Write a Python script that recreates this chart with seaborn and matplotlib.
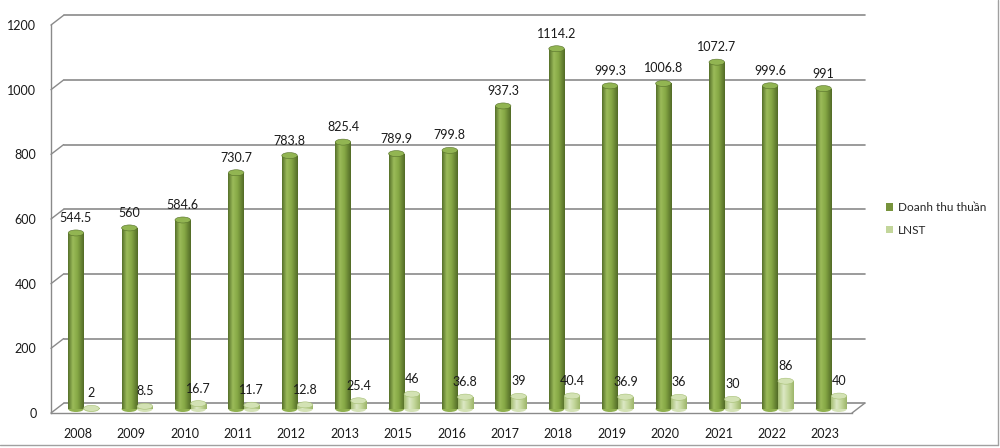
import numpy as np
import pandas as pd
import matplotlib
matplotlib.use("Agg")
import matplotlib.pyplot as plt
import seaborn as sns
from matplotlib.transforms import ScaledTranslation
from matplotlib.patches import Ellipse, Patch
from matplotlib.colors import LinearSegmentedColormap
from matplotlib.lines import Line2D

years = ['2008', '2009', '2010', '2011', '2012', '2013', '2015', '2016',
         '2017', '2018', '2019', '2020', '2021', '2022', '2023']
revenue = [544.5, 560, 584.6, 730.7, 783.8, 825.4, 789.9, 799.8,
           937.3, 1114.2, 999.3, 1006.8, 1072.7, 999.6, 991]
profit = [2, 8.5, 16.7, 11.7, 12.8, 25.4, 46, 36.8,
          39, 40.4, 36.9, 36, 30, 86, 40]
series_names = ['Doanh thu thuần', 'LNST']
yticks = [0, 200, 400, 600, 800, 1000, 1200]

df = pd.DataFrame({
    'year': years * 2,
    'value': revenue + profit,
    'series': [series_names[0]] * len(years) + [series_names[1]] * len(years),
})

sns.set_theme(style='white')
plt.rcParams['font.family'] = ['Lato', 'DejaVu Sans']

colors = {'Doanh thu thuần': '#77933C', 'LNST': '#C3D69B'}
cmaps = {
    'Doanh thu thuần': LinearSegmentedColormap.from_list(
        'g', [(0, '#56702A'), (0.3, '#9BBB59'), (0.6, '#86A845'), (1, '#526B27')]),
    'LNST': LinearSegmentedColormap.from_list(
        'l', [(0, '#A6BF74'), (0.35, '#DCE8C4'), (0.65, '#C3D69B'), (1, '#9DB66A')]),
}
caps = {'Doanh thu thuần': '#92B552', 'LNST': '#D3E2B4'}

fig = plt.figure(figsize=(10, 4.48), dpi=100)
ax = fig.add_axes([0.051, 1 - 413 / 448, 0.852 - 0.051, (413 - 25) / 448])

sns.barplot(data=df, x='year', y='value', hue='series', palette=colors,
            width=0.58, dodge=True, ax=ax, legend=False, saturation=1,
            errorbar=None)

ax.set_xlim(-0.5, len(years) - 0.5)
ax.set_ylim(0, 1200)

bar_off = ScaledTranslation(6 / 100, 4 / 100, fig.dpi_scale_trans)
btrans = ax.transData + bar_off
grad = np.linspace(0, 1, 64).reshape(1, -1)
px_per_unit = (413 - 25) / 1200.0
cap_h = 6 / px_per_unit

patches = list(ax.patches)
n = len(years)
for i, p in enumerate(patches):
    s = series_names[0] if i < n else series_names[1]
    p.set_transform(btrans)
    p.set_edgecolor('none')
    x0, w, h = p.get_x(), p.get_width(), p.get_height()
    im = ax.imshow(grad, extent=(x0, x0 + w, 0, h), aspect='auto',
                   cmap=cmaps[s], transform=btrans, zorder=2.5)
    im.set_clip_path(p)
    # bottom rounding
    eb = Ellipse((x0 + w / 2, 0), w, cap_h, transform=btrans,
                 facecolor=cmaps[s](0.45), edgecolor='none', zorder=2.4)
    ax.add_patch(eb)
    e = Ellipse((x0 + w / 2, h), w, cap_h, transform=btrans,
                facecolor=caps[s], edgecolor=cmaps[s](0.0), linewidth=0.4,
                zorder=2.6)
    ax.add_patch(e)
    val = revenue[i] if i < n else profit[i - n]
    lab = f'{val:g}'
    ax.annotate(lab, xy=(x0 + w / 2, h), xycoords=btrans,
                xytext=(0, 6.5), textcoords='offset points',
                ha='center', va='bottom', fontsize=9, color='#1a1a1a',
                zorder=5)

ax.set_xlim(-0.5, len(years) - 0.5)
ax.set_ylim(0, 1200)

# 3D back wall grid and frame
gcol = '#8a8a8a'
wall_dx, wall_dy = 12.6, 9.7
wall_off = ScaledTranslation(wall_dx / 100, wall_dy / 100, fig.dpi_scale_trans)
ytr = ax.get_yaxis_transform()
for v in yticks:
    ax.plot([0, 1], [v, v], transform=ytr + wall_off, color=gcol,
            linewidth=1.2, clip_on=False, zorder=0.5)
    ax.annotate('', xy=(0, v), xycoords=ytr, xytext=(wall_dx, wall_dy),
                textcoords='offset pixels',
                arrowprops=dict(arrowstyle='-', color=gcol, lw=1.0,
                                shrinkA=0, shrinkB=0))
ax.annotate('', xy=(1, 0), xycoords=ytr, xytext=(wall_dx, wall_dy),
            textcoords='offset pixels',
            arrowprops=dict(arrowstyle='-', color=gcol, lw=1.0,
                            shrinkA=0, shrinkB=0))

for s in ['top', 'right']:
    ax.spines[s].set_visible(False)
for s in ['left', 'bottom']:
    ax.spines[s].set_color(gcol)
    ax.spines[s].set_linewidth(1.0)

ax.set_yticks(yticks)
ax.set_yticklabels([str(v) for v in yticks])
ax.tick_params(axis='y', which='major', direction='out', length=3.5,
               width=0.8, color=gcol, pad=7, labelsize=9, labelcolor='#1a1a1a')
ax.set_xticks(range(len(years)))
ax.set_xticklabels(years)
ax.set_xticks(np.arange(-0.5, len(years), 1.0), minor=True)
ax.tick_params(axis='x', which='major', length=0, pad=11, labelsize=9,
               labelcolor='#1a1a1a')
ax.tick_params(axis='x', which='minor', direction='out', length=4,
               width=0.8, color=gcol)
ax.set_xlabel('')
ax.set_ylabel('')
ax.set_facecolor('none')
ax.grid(False)

handles = [Patch(facecolor=colors[s], edgecolor='none', label=s)
           for s in series_names]
fig.legend(handles=handles, loc='upper left',
           bbox_to_anchor=(0.886, 1 - 202 / 448), frameon=False,
           handlelength=0.6, handleheight=0.6, handletextpad=0.4,
           labelspacing=1.0, fontsize=8.5, borderaxespad=0, borderpad=0)

# chart area border (right and bottom)
fig.add_artist(Line2D([0.998, 0.998], [1 - 445 / 448, 1.0],
                      transform=fig.transFigure, color='#a0a0a0', lw=1.0))
fig.add_artist(Line2D([0.0, 0.998], [1 - 445 / 448, 1 - 445 / 448],
                      transform=fig.transFigure, color='#a0a0a0', lw=1.0))

fig.savefig('out.png', dpi=100, facecolor='white')
